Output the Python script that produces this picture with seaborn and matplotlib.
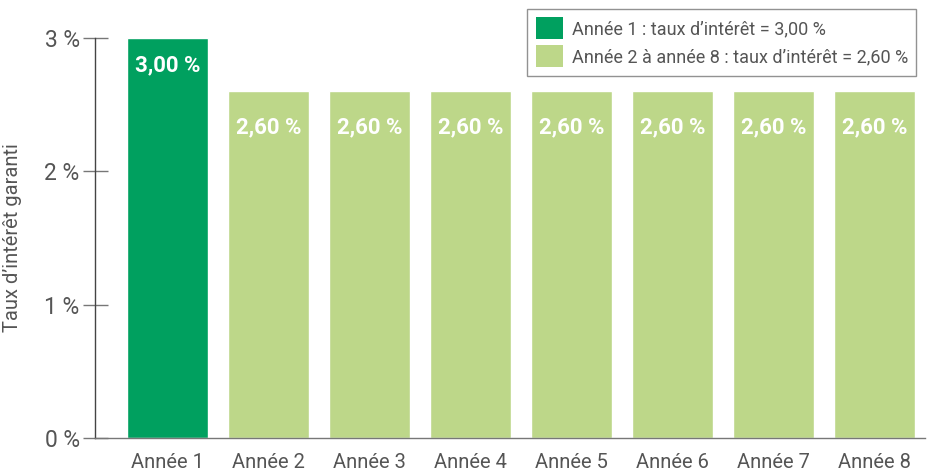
import matplotlib
matplotlib.use("Agg")
import matplotlib.pyplot as plt
import seaborn as sns
import pandas as pd
from matplotlib.patches import Patch

categories = ["Année 1", "Année 2", "Année 3", "Année 4", "Année 5", "Année 6", "Année 7", "Année 8"]
values = [3.00, 2.60, 2.60, 2.60, 2.60, 2.60, 2.60, 2.60]
groups = ["Année 1 : taux d’intérêt = 3,00 %"] + ["Année 2 à année 8 : taux d’intérêt = 2,60 %"] * 7
value_labels = ["3,00 %", "2,60 %", "2,60 %", "2,60 %", "2,60 %", "2,60 %", "2,60 %", "2,60 %"]
y_ticks = [0, 1, 2, 3]
y_tick_labels = ["0 %", "1 %", "2 %", "3 %"]
y_label = "Taux d’intérêt garanti"

dark = "#00a05f"
light = "#bdd789"
grey = "#555555"

sns.set_theme(style="white")
plt.rcParams['font.family'] = ['Roboto', 'DejaVu Sans']

df = pd.DataFrame({"cat": categories, "val": values, "grp": groups})

fig = plt.figure(figsize=(9.31, 4.73), dpi=100)
ax = fig.add_axes([95/931, 35/473, (925-95)/931, (438-38)/473])
sns.barplot(data=df, x="cat", y="val", hue="grp", palette=[dark, light],
            dodge=False, width=0.8, ax=ax, legend=False, saturation=1)

ax.set_ylim(0, 3)
ax.set_xlim(-0.72, 7.5)
ax.set_yticks(y_ticks)
ax.set_yticklabels(y_tick_labels, fontsize=16.5, color=grey)
ax.set_xlabel("")
ax.set_ylabel(y_label, fontsize=14.5, color=grey, labelpad=16)
ax.tick_params(axis="x", bottom=False, length=0, labelsize=14.5, labelcolor=grey, pad=11)
ax.tick_params(axis="y", left=True, direction="inout", length=18, width=1, color="#777777", pad=2)
for s in ["top", "right"]:
    ax.spines[s].set_visible(False)
ax.spines["left"].set_color("#444444")
ax.spines["bottom"].set_color("#777777")
ax.spines["left"].set_linewidth(1)
ax.spines["bottom"].set_linewidth(1)

for i, (v, lab) in enumerate(zip(values, value_labels)):
    off = -27 if i == 0 else -36
    ax.annotate(lab, xy=(i, v), xytext=(0, off), textcoords="offset pixels",
                ha="center", va="center", color="white", fontsize=16, fontweight="bold")

handles = [Patch(facecolor=dark, edgecolor="none"), Patch(facecolor=light, edgecolor="none")]
leg = fig.legend(handles, [groups[0], groups[1]], loc="upper right",
                 bbox_to_anchor=(916/931, 1 - 9/473), fontsize=13, frameon=True,
                 fancybox=False, edgecolor="#777777", handlelength=1.5, handleheight=1.5,
                 handletextpad=0.5, borderpad=0.45, labelspacing=0.35, labelcolor=grey,
                 borderaxespad=0)
leg.get_frame().set_linewidth(1)

fig.savefig("out.png", dpi=100)
